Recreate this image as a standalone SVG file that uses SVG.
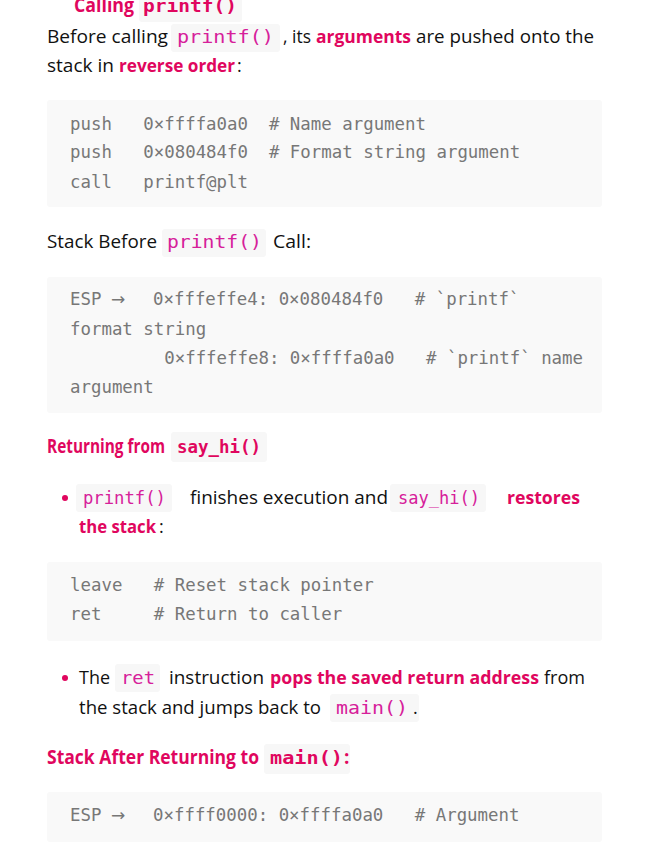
<svg xmlns="http://www.w3.org/2000/svg" width="646" height="861" viewBox="0 0 646 861">
<style>
.p{font-family:"Open Sans","Noto Sans",sans-serif;font-size:18px;fill:#111}
.b{font-family:"Open Sans","Noto Sans",sans-serif;font-size:18px;font-weight:bold;fill:#e0065e}
.h{font-family:"Open Sans","Noto Sans",sans-serif;font-size:19px;font-weight:bold;fill:#e0065e}
.ic{font-family:"DejaVu Sans Mono",monospace;font-size:18px;fill:#d6209a}
.hc{font-family:"DejaVu Sans Mono",monospace;font-size:18px;font-weight:bold;fill:#e0065e}
.cb{fill:#f9f9f9}
.chip{fill:#f7f7f7}
.m{font-family:"DejaVu Sans Mono",monospace;font-size:17.4px;fill:#777;white-space:pre}
.ar{font-family:"DejaVu Sans",sans-serif;font-size:17px;fill:#777}
</style>
<rect width="646" height="861" fill="#fff"/>
<g id="h1">
<rect class="chip" x="139" y="-6" width="103" height="28" rx="3"/>
<text class="h" x="74" y="12" textLength="60" lengthAdjust="spacingAndGlyphs">Calling</text>
<text class="hc" x="143" y="12" textLength="94" lengthAdjust="spacingAndGlyphs">printf()</text>
</g>
<g id="para1">
<text class="p" x="47" y="43" textLength="121" lengthAdjust="spacingAndGlyphs">Before calling</text>
<rect class="chip" x="171" y="24" width="109" height="28" rx="3"/>
<text class="ic" x="177" y="43" textLength="97" lengthAdjust="spacingAndGlyphs">printf()</text>
<text class="p" x="283" y="43" textLength="28" lengthAdjust="spacingAndGlyphs">, its</text>
<text class="b" x="316" y="43" textLength="95" lengthAdjust="spacingAndGlyphs">arguments</text>
<text class="p" x="416" y="43" textLength="178" lengthAdjust="spacingAndGlyphs">are pushed onto the</text>
<text class="p" x="47" y="72" textLength="67" lengthAdjust="spacingAndGlyphs">stack in</text>
<text class="b" x="119" y="72" textLength="116" lengthAdjust="spacingAndGlyphs">reverse order</text>
<text class="p" x="237" y="72">:</text>
</g>
<g id="code1">
<rect class="cb" x="47" y="100" width="555" height="107" rx="3"/>
<text class="m" x="70" y="130" xml:space="preserve">push   0×ffffa0a0  # Name argument</text>
<text class="m" x="70" y="158" xml:space="preserve">push   0×080484f0  # Format string argument</text>
<text class="m" x="70" y="188" xml:space="preserve">call   printf@plt</text>
</g>
<g id="para2">
<text class="p" x="47" y="248" textLength="110" lengthAdjust="spacingAndGlyphs">Stack Before</text>
<rect class="chip" x="162" y="229" width="104" height="28" rx="3"/>
<text class="ic" x="167" y="248" textLength="95" lengthAdjust="spacingAndGlyphs">printf()</text>
<text class="p" x="273" y="248" textLength="38" lengthAdjust="spacingAndGlyphs">Call:</text>
</g>
<g id="code2">
<rect class="cb" x="47" y="277" width="555" height="136" rx="3"/>
<text class="m" x="70" y="305">ESP</text>
<text class="ar" x="111" y="305">→</text>
<text class="m" x="153" y="305" xml:space="preserve">0×fffeffe4: 0×080484f0   # `printf`</text>
<text class="m" x="70" y="335" xml:space="preserve">format string</text>
<text class="m" x="70" y="364" xml:space="preserve">         0×fffeffe8: 0×ffffa0a0   # `printf` name</text>
<text class="m" x="70" y="393" xml:space="preserve">argument</text>
</g>
<g id="h2">
<text class="h" x="47" y="453" textLength="118" lengthAdjust="spacingAndGlyphs">Returning from</text>
<rect class="chip" x="171" y="432" width="96" height="30" rx="3"/>
<text class="hc" x="177" y="453" textLength="84" lengthAdjust="spacingAndGlyphs">say_hi()</text>
</g>
<g id="bullet1">
<circle cx="65" cy="498" r="3" fill="#e0065e"/>
<rect class="chip" x="76" y="484" width="96" height="28" rx="3"/>
<text class="ic" x="83" y="504" textLength="83" lengthAdjust="spacingAndGlyphs">printf()</text>
<text class="p" x="190" y="504" textLength="198" lengthAdjust="spacingAndGlyphs">finishes execution and</text>
<rect class="chip" x="390" y="484" width="96" height="28" rx="3"/>
<text class="ic" x="398" y="504" textLength="82" lengthAdjust="spacingAndGlyphs">say_hi()</text>
<text class="b" x="507" y="504" textLength="73" lengthAdjust="spacingAndGlyphs">restores</text>
<text class="b" x="79" y="533" textLength="77" lengthAdjust="spacingAndGlyphs">the stack</text>
<text class="p" x="159" y="533">:</text>
</g>
<g id="code3">
<rect class="cb" x="47" y="562" width="555" height="79" rx="3"/>
<text class="m" x="70" y="591" xml:space="preserve">leave   # Reset stack pointer</text>
<text class="m" x="70" y="620" xml:space="preserve">ret     # Return to caller</text>
</g>
<g id="bullet2">
<circle cx="65" cy="678" r="3" fill="#e0065e"/>
<text class="p" x="79" y="684" textLength="31" lengthAdjust="spacingAndGlyphs">The</text>
<rect class="chip" x="115" y="664" width="45" height="28" rx="3"/>
<text class="ic" x="121" y="684" textLength="34" lengthAdjust="spacingAndGlyphs">ret</text>
<text class="p" x="169" y="684" textLength="95" lengthAdjust="spacingAndGlyphs">instruction</text>
<text class="b" x="270" y="684" textLength="269" lengthAdjust="spacingAndGlyphs">pops the saved return address</text>
<text class="p" x="544" y="684" textLength="41" lengthAdjust="spacingAndGlyphs">from</text>
<text class="p" x="79" y="714" textLength="242" lengthAdjust="spacingAndGlyphs">the stack and jumps back to</text>
<rect class="chip" x="330" y="694" width="89" height="28" rx="3"/>
<text class="ic" x="336" y="714" textLength="72" lengthAdjust="spacingAndGlyphs">main()</text>
<text class="p" x="413" y="714">.</text>
</g>
<g id="h3">
<text class="h" x="47" y="764" textLength="212" lengthAdjust="spacingAndGlyphs">Stack After Returning to</text>
<rect class="chip" x="264" y="744" width="86" height="30" rx="3"/>
<text class="hc" x="270" y="764" textLength="73" lengthAdjust="spacingAndGlyphs">main()</text>
<text class="h" x="344" y="764">:</text>
</g>
<g id="code4">
<rect class="cb" x="47" y="792" width="555" height="50" rx="3"/>
<text class="m" x="70" y="821">ESP</text>
<text class="ar" x="111" y="821">→</text>
<text class="m" x="153" y="821" xml:space="preserve">0×ffff0000: 0×ffffa0a0   # Argument</text>
</g>
</svg>
